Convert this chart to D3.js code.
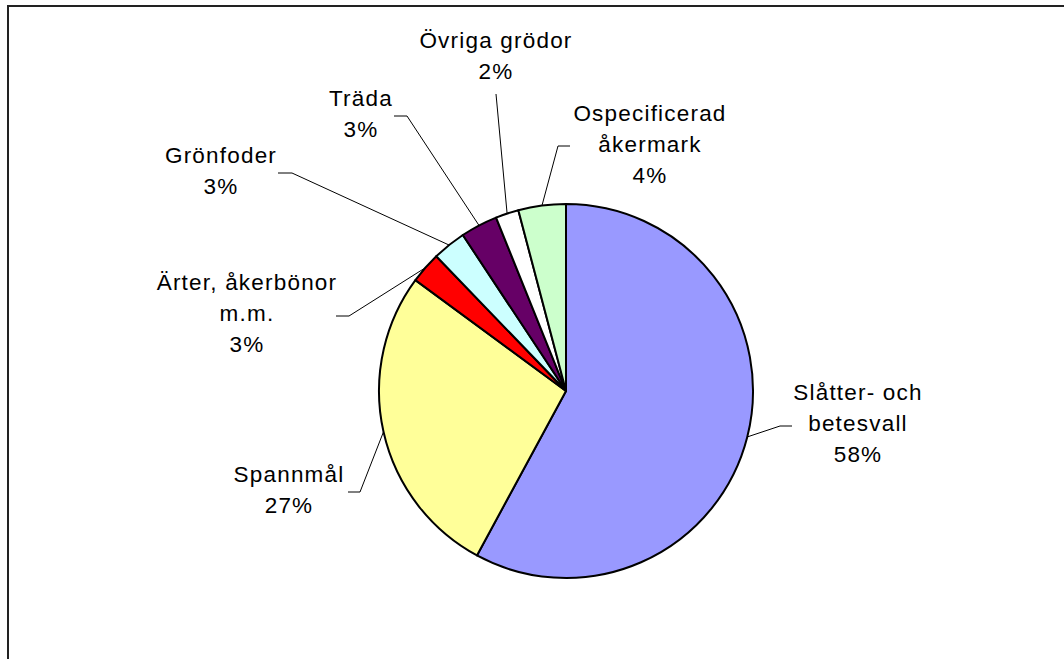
<!DOCTYPE html>
<html>
<head>
<meta charset="utf-8">
<script src="https://cdn.jsdelivr.net/npm/d3@7"></script>
<style>
  body { margin: 0; background: #fff; }
  svg text { font-family: "Liberation Sans", Arial, sans-serif; font-size: 22.5px; fill: #000; letter-spacing: 1.2px; }
</style>
</head>
<body>
<svg id="mysvg"></svg>
<script>
const w = 1064, h = 659;

// data, clockwise from 12 o'clock
const categories = ["Slåtter- och betesvall", "Spannmål", "Ärter, åkerbönor m.m.", "Grönfoder", "Träda", "Övriga grödor", "Ospecificerad åkermark"];
const labelLines = [["Slåtter- och", "betesvall"], ["Spannmål"], ["Ärter, åkerbönor", "m.m."], ["Grönfoder"], ["Träda"], ["Övriga grödor"], ["Ospecificerad", "åkermark"]];
const values = [57.9, 27.2, 2.7, 2.9, 3.2, 2.0, 4.1];
const colors = ["#9999FF", "#FFFF99", "#FF0000", "#CCFFFF", "#660066", "#FFFFFF", "#CCFFCC"];

// label layout: text centre x, first baseline y, elbow of the leader line
const labelPos = [
    {x: 858, y: 400, elbow: [[792, 426], [780, 426]]},
    {x: 289, y: 482, elbow: [[348, 492], [360, 492]]},
    {x: 247, y: 290, elbow: [[336, 316], [349, 316]]},
    {x: 221, y: 163, elbow: [[278, 173], [292, 173]]},
    {x: 361, y: 106, elbow: [[394, 116], [407, 116]]},
    {x: 496, y: 48,  elbow: [[496, 94]]},
    {x: 650, y: 121, elbow: [[570, 146], [558, 146]]}
];

const cx = 566, cy = 391, r = 187;
const lineGap = 31;

const svg = d3.select("#mysvg")
    .attr("width", w)
    .attr("height", h);

// chart frame
svg.append("rect")
    .attr("x", 8).attr("y", 6)
    .attr("width", 1200).attr("height", 800)
    .attr("fill", "none")
    .attr("stroke", "#222")
    .attr("stroke-width", 2);

const total = d3.sum(values);
const pie = d3.pie().sort(null).value(d => d)(values);
const arc = d3.arc().innerRadius(0).outerRadius(r);

const g = svg.append("g").attr("transform", `translate(${cx},${cy})`);

g.selectAll("path.slice")
    .data(pie)
    .enter().append("path")
    .attr("class", "slice")
    .attr("d", arc)
    .attr("fill", (d, i) => colors[i])
    .attr("stroke", "#000")
    .attr("stroke-width", 2)
    .attr("stroke-linejoin", "round");

// leader lines
pie.forEach((d, i) => {
    const a = (d.startAngle + d.endAngle) / 2;
    const end = [cx + r * Math.sin(a), cy - r * Math.cos(a)];
    const pts = labelPos[i].elbow.concat([end]);
    svg.append("path")
        .attr("d", d3.line()(pts))
        .attr("fill", "none")
        .attr("stroke", "#000")
        .attr("stroke-width", 1);
});

// labels
pie.forEach((d, i) => {
    const lines = labelLines[i].concat([Math.round(values[i] / total * 100) + "%"]);
    const t = svg.append("text")
        .attr("text-anchor", "middle");
    lines.forEach((s, k) => {
        t.append("tspan")
            .attr("x", labelPos[i].x)
            .attr("y", labelPos[i].y + k * lineGap)
            .text(s);
    });
});
</script>
</body>
</html>
